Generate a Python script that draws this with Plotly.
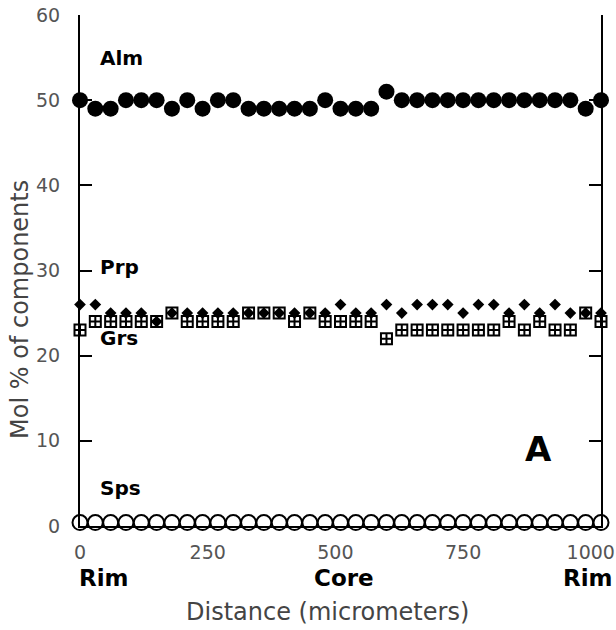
import plotly.graph_objects as go

# Distance along traverse (micrometers)
distance = [0, 30, 60, 90, 120, 150, 180, 210, 240, 270, 300, 330, 360, 390, 420, 450, 480,
            510, 540, 570, 600, 630, 660, 690, 720, 750, 780, 810, 840, 870, 900, 930, 960, 990, 1020]

alm = [50, 49, 49, 50, 50, 50, 49, 50, 49, 50, 50, 49, 49, 49, 49, 49, 50,
       49, 49, 49, 51, 50, 50, 50, 50, 50, 50, 50, 50, 50, 50, 50, 50, 49, 50]
prp = [26, 26, 25, 25, 25, 24, 25, 25, 25, 25, 25, 25, 25, 25, 25, 25, 25,
       26, 25, 25, 26, 25, 26, 26, 26, 25, 26, 26, 25, 26, 25, 26, 25, 25, 25]
grs = [23, 24, 24, 24, 24, 24, 25, 24, 24, 24, 24, 25, 25, 25, 24, 25, 24,
       24, 24, 24, 22, 23, 23, 23, 23, 23, 23, 23, 24, 23, 24, 23, 23, 25, 24]
sps = [0.4] * 35

y_ticks = [0, 10, 20, 30, 40, 50, 60]
x_ticks = [0, 250, 500, 750, 1000]
x_ticklabels = ["0", "250", "500", "750", "1000"]

fig = go.Figure()

fig.add_trace(go.Scatter(x=distance, y=alm, mode="markers", name="Alm", cliponaxis=False,
                         marker=dict(symbol="circle", size=16, color="black",
                                     line=dict(width=0))))
fig.add_trace(go.Scatter(x=distance, y=grs, mode="markers", name="Grs", cliponaxis=False,
                         marker=dict(symbol="square-cross", size=11, color="white",
                                     line=dict(width=2, color="black"))))
fig.add_trace(go.Scatter(x=distance, y=prp, mode="markers", name="Prp", cliponaxis=False,
                         marker=dict(symbol="diamond", size=9, color="black",
                                     line=dict(width=0))))
fig.add_trace(go.Scatter(x=distance, y=sps, mode="markers", name="Sps", cliponaxis=False,
                         marker=dict(symbol="circle", size=15, color="white",
                                     line=dict(width=2, color="black"))))

lab_font = dict(family="DejaVu Sans", size=20, color="black", weight="bold")
anns = [
    dict(text="Alm", x=35, y=55.0, xref="x", yref="y", xanchor="left", yanchor="middle",
         showarrow=False, font=lab_font),
    dict(text="Prp", x=35, y=30.4, xref="x", yref="y", xanchor="left", yanchor="middle",
         showarrow=False, font=lab_font),
    dict(text="Grs", x=35, y=22.1, xref="x", yref="y", xanchor="left", yanchor="middle",
         showarrow=False, font=lab_font),
    dict(text="Sps", x=35, y=4.5, xref="x", yref="y", xanchor="left", yanchor="middle",
         showarrow=False, font=lab_font),
    dict(text="A", x=897, y=9.0, xref="x", yref="y", xanchor="center", yanchor="middle",
         showarrow=False, font=dict(family="DejaVu Sans", size=34, color="black", weight="bold")),
]
rc_font = dict(family="DejaVu Sans", size=23, color="black", weight="bold")
for txt, xv, anchor in [("Rim", -0.005, "left"), ("Core", 0.507, "center"), ("Rim", 0.975, "center")]:
    anns.append(dict(text=txt, x=xv, y=-0.102, xref="paper", yref="paper", xanchor=anchor,
                     yanchor="middle", showarrow=False, font=rc_font))
anns.append(dict(text="Distance (micrometers)", x=0.476, y=-0.168, xref="paper", yref="paper",
                 xanchor="center", yanchor="middle", showarrow=False,
                 font=dict(family="DejaVu Sans", size=24, color="#444444")))
anns.append(dict(text="Mol % of components", x=-0.115, y=0.423, xref="paper", yref="paper",
                 xanchor="center", yanchor="middle", textangle=-90, showarrow=False,
                 font=dict(family="DejaVu Sans", size=24, color="#444444")))

fig.update_layout(
    width=616, height=630,
    margin=dict(l=80, r=15, t=15, b=104, autoexpand=False),
    plot_bgcolor="white", paper_bgcolor="white",
    showlegend=False,
    annotations=anns,
    xaxis=dict(range=[0, 1020], tickvals=x_ticks, ticktext=x_ticklabels,
               showgrid=False, zeroline=False, showline=True, linecolor="black", linewidth=2,
               ticks="", ticklabelstandoff=8, automargin=False, ticklabeloverflow="allow",
               tickfont=dict(family="DejaVu Sans", size=19, color="#555555")),
    yaxis=dict(range=[0, 60], tickvals=y_ticks, showgrid=False, zeroline=False,
               showline=True, linecolor="black", linewidth=2, mirror="ticks",
               ticks="inside", ticklen=12, tickwidth=2, tickcolor="black",
               ticklabelstandoff=14, automargin=False, ticklabeloverflow="allow",
               tickfont=dict(family="DejaVu Sans", size=19, color="#555555")),
)

fig.write_html(
    "out.html",
    config={"displayModeBar": False},
    post_script="document.body.style.margin='0';document.body.style.overflow='hidden';",
)
